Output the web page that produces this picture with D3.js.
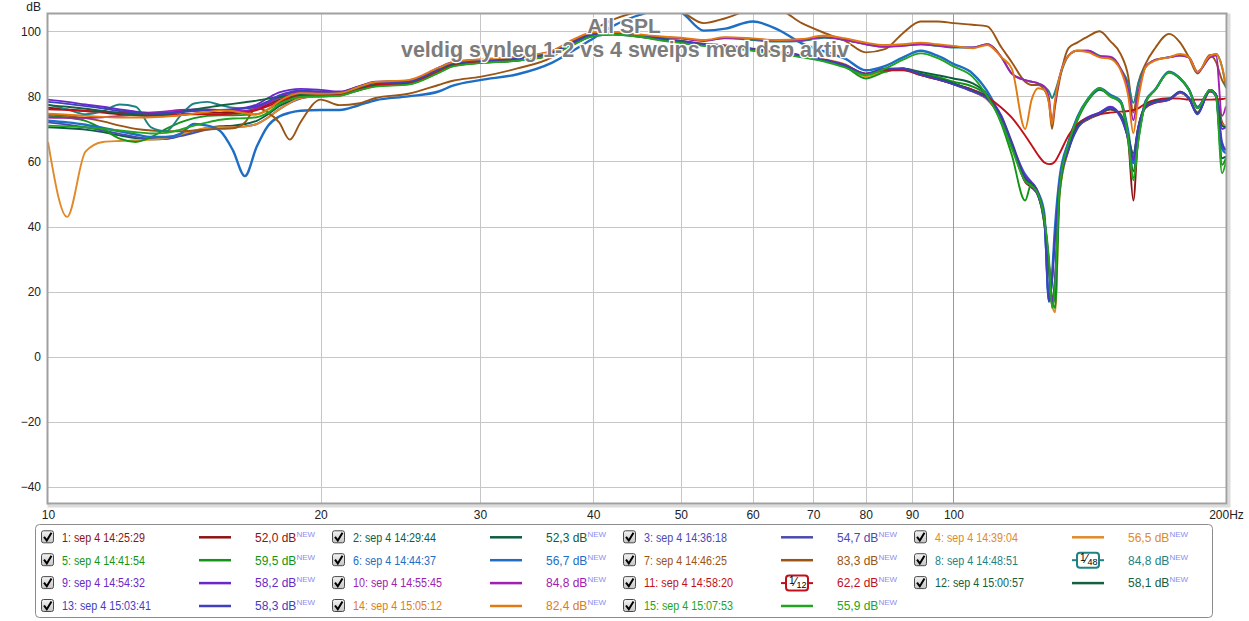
<!DOCTYPE html>
<html>
<head>
<meta charset="utf-8">
<script src="https://cdn.jsdelivr.net/npm/d3@7"></script>
<style>
  html, body { margin: 0; padding: 0; background: #fff; }
  svg { display: block; font-family: "Liberation Sans", Arial, sans-serif; }
</style>
</head>
<body>
<svg id="chart" width="1249" height="621"></svg>
<script>
// frequency points (Hz) shared by every sweep
const freqs = [
  10, 10.5, 11, 11.5, 12, 12.5, 13, 13.5, 14, 14.5, 15, 15.5, 16, 16.5, 17, 17.5, 18, 18.5, 19,
  20, 21, 22, 23, 25, 27, 28, 30, 33, 36, 38, 40, 42, 45, 48, 50,
  53, 56, 60, 64, 68, 72, 76, 80, 84, 88, 92, 96, 100,
  105, 109, 113, 116, 120, 122, 124, 126, 127.5, 128.5, 129.5, 131, 134, 137, 141, 145, 149, 153,
  156, 158, 160, 163, 167, 173, 178, 182, 186, 192, 195, 198, 200,
];

const yTicks = [100, 80, 60, 40, 20, 0, -20, -40];
const xTicks = [10, 20, 30, 40, 50, 60, 70, 80, 90, 100, 200];
const xGrid = [20, 30, 40, 50, 60, 70, 80, 90, 100];

const names = [
  "1: sep 4 14:25:29", "2: sep 4 14:29:44", "3: sep 4 14:36:18", "4: sep 4 14:39:04",
  "5: sep 4 14:41:54", "6: sep 4 14:44:37", "7: sep 4 14:46:25", "8: sep 4 14:48:51",
  "9: sep 4 14:54:32", "10: sep 4 14:55:45", "11: sep 4 14:58:20", "12: sep 4 15:00:57",
  "13: sep 4 15:03:41", "14: sep 4 15:05:12", "15: sep 4 15:07:53",
];
const levels = ["52,0", "52,3", "54,7", "56,5", "59,5", "56,7", "83,3", "84,8",
  "58,2", "84,8", "62,2", "58,1", "58,3", "82,4", "55,9"];
const colors = ["#8e1212", "#0d5e40", "#4a4ab4", "#e08a2a", "#149414", "#1d6ec4", "#9a5414", "#1f8282",
  "#6a28c8", "#a020b0", "#c0101c", "#15603e", "#3f3fc0", "#e27a12", "#22a422"];
const smoothing = { 8: "48", 11: "12" };

// SPL values (dB) per sweep, one per frequency point
const s1 = [
  76.5, 76, 75.5, 75, 74.5, 74.2, 74, 74, 74.3, 74.7, 75, 75, 75.2, 75.5, 76, 77.5, 79, 80, 80.5,
  80.2, 80.5, 82, 83.3, 84, 87.5, 89.5, 90.5, 91.3, 93, 96.3, 98.8, 99.2, 98.5, 97.3, 96.8,
  95.8, 95.3, 94.3, 93.3, 92.3, 91, 89.3, 86.5, 88, 88.3, 86.6, 85.2, 83.8,
  81.5, 79, 73, 65.5, 53.7, 52, 49.5, 41, 28, 18, 22, 51, 63.5, 70.5, 73, 74.5, 76, 74,
  66, 48, 68, 76.5, 78, 78.9, 81, 79.3, 75, 81.5, 80.5, 72, 70.5,
];
const s2 = [
  70.5, 70.2, 69.8, 69, 68, 67.2, 66.8, 67, 68, 69.3, 70.3, 70.8, 71, 71.5, 72.5, 74.5, 77, 78.5, 79.5,
  80, 80.3, 81.8, 83.2, 83.8, 87.3, 89.3, 90.3, 91, 92.8, 96, 98.5, 99, 98.3, 97.2, 96.5,
  95.6, 95.2, 94.2, 93.2, 92.2, 91, 89.2, 86.5, 88, 88.5, 87.5, 86.5, 85.5,
  84, 80.5, 72.5, 64.5, 55, 53, 50.5, 42, 28, 16, 24, 53, 66, 73.5, 79, 82, 80.3, 78.5,
  68, 57, 67, 78.5, 82, 87.5, 85.5, 82.3, 76.8, 81.8, 80.3, 61, 61.5,
];
const s3 = [
  72, 71.3, 70.5, 69.5, 68.5, 67.5, 67, 67, 67.8, 68.8, 69.8, 70.3, 70.5, 70.8, 71.5, 73.5, 76, 78, 79.3,
  80.3, 80.5, 82, 83.5, 84, 87.8, 89.6, 90.6, 91.2, 93, 96.2, 98.8, 99.2, 98.5, 97.4, 96.8,
  95.9, 95.4, 94.4, 93.4, 92.4, 91.1, 89.4, 86.7, 88.2, 88.4, 86.7, 85.4, 83.9,
  81.8, 79.5, 73.5, 65.5, 55, 53, 50, 42, 17.5, 24, 38, 53, 64, 70.5, 73.5, 75, 76.5, 73.5,
  67, 61, 70.5, 76.8, 78.3, 79, 81.3, 79.4, 74.8, 82, 80.5, 66, 63.5,
];
const s4 = [
  66, 43, 63, 66, 66.3, 66.5, 66.7, 67.2, 68.3, 69.5, 70.3, 70.5, 70.5, 70.7, 71.5, 73.5, 76, 78, 79.5,
  80, 80.2, 82.5, 84, 84.5, 88.3, 90, 91, 91.8, 93.6, 97, 99.3, 99.6, 98.8, 97.5, 97,
  96.2, 95.7, 94.7, 93.7, 92.7, 91.4, 89.8, 86.2, 87.8, 88.2, 86.5, 85.3, 84,
  81.5, 79.2, 73, 65, 54, 52.5, 50, 41.5, 28, 16, 13.7, 50, 63.5, 70.5, 73.2, 74.8, 76.2, 74,
  67.5, 62, 70.5, 77, 78.3, 79, 81.2, 79.4, 75, 82, 80.5, 71.5, 70.8,
];
const s5 = [
  74, 73.5, 72.5, 70, 67, 66, 67.5, 70, 72, 73.3, 74, 74.2, 74.2, 74.3, 74.5, 76, 78, 79.5, 80.3,
  80, 80.3, 82, 83.3, 83.8, 87.5, 89.5, 90.3, 91, 92.8, 96, 98.7, 99.2, 98.5, 97.2, 96.6,
  95.7, 95.2, 94.2, 93.2, 92.2, 90.9, 89, 85.5, 87.5, 88.6, 87, 86, 84.5,
  83, 80, 71.5, 62, 48, 53.4, 50, 41, 27, 18, 15, 50, 65, 72.5, 79, 82.3, 80, 78,
  66, 55, 66.5, 78, 82, 87.3, 85.3, 82, 76.5, 81.8, 80, 59, 61,
];
const s6 = [
  72.5, 72, 71.3, 70.3, 69.3, 68.3, 67.5, 67.5, 68.5, 71.5, 71, 69.3, 63.5, 55.5, 64.5, 71, 73.8, 75, 75.6,
  75.8, 75.8, 77.2, 78.8, 80, 81.5, 83.3, 85, 86.8, 90.3, 94, 97.8, 101.5, 105, 106.8, 105.8,
  100.2, 100.8, 103, 100.5, 96.3, 93.8, 91.5, 88, 89.3, 92, 94, 92.5, 90,
  87, 81.5, 73, 65, 56, 53.5, 50.5, 44, 17, 25, 40, 55, 66, 73.5, 79.5, 82.5, 80.5, 78.5,
  69, 59.5, 68, 78.5, 82, 87.6, 85.5, 82, 76.5, 81.8, 80, 64, 62.5,
];
const s7 = [
  74.5, 74, 73.3, 72.3, 71, 70, 69.5, 69.3, 69.3, 69.5, 69.8, 70, 70.2, 72, 76.5, 75, 72, 66.7, 72,
  79, 77.3, 77.8, 79.5, 80.8, 83.5, 84.8, 86, 88.6, 92, 96.5, 100.4, 103.5, 106, 107, 106,
  102.5, 104, 106.5, 106.5, 102.5, 99.5, 97, 93.5, 94.5, 99.5, 103, 103, 102.5,
  102, 101.5, 95, 90.5, 84.5, 83.5, 83.5, 82, 78, 70, 77, 85, 94.8, 96.5, 98.5, 100, 97, 93,
  86, 75, 84, 90, 94.8, 99.2, 96.5, 92, 87, 92.7, 90.5, 85, 83,
];
const s8 = [
  77.5, 76, 74.5, 75.5, 77.5, 76.8, 70.5, 69.3, 74, 77.8, 78.3, 77.3, 76.5, 76.3, 76.8, 78, 79.5, 80.5, 81,
  81, 81.2, 83, 84.3, 84.8, 88.5, 90.3, 91.2, 92, 93.8, 97, 99.3, 99.6, 98.8, 98, 97.8,
  97.2, 97.8, 97.3, 96.8, 97, 98, 97.3, 96, 95.3, 95.6, 96, 95.5, 95,
  95, 96, 92, 87, 85, 84.5, 84, 83, 81.5, 79.5, 81.5, 86, 92.5, 94, 94, 92.5, 92, 88.5,
  84, 78, 84, 89, 91.2, 92, 92.5, 92, 87.5, 92, 93, 89, 82.5,
];
const s9 = [
  79, 78.3, 77.5, 76.8, 76, 75.3, 75, 75, 75.3, 75.6, 75.8, 75.8, 76, 76.5, 77.5, 79.5, 81.2, 82, 82.3,
  82, 81.5, 83, 84.5, 84.7, 88.8, 90.6, 91.2, 91.8, 93.5, 96.8, 99, 99.3, 98.5, 97.5, 97,
  96.1, 95.6, 94.6, 93.6, 92.6, 91.3, 89.6, 87, 88.5, 88.6, 86.8, 85.4, 83.8,
  82, 79.8, 74, 66, 55.5, 53.5, 50.5, 42.5, 29, 17, 24, 53, 64, 71, 73.7, 75, 76.8, 74,
  67, 60.5, 70, 76.8, 78.3, 79, 81.4, 79.4, 74.5, 82, 80.5, 70, 70.6,
];
const s10 = [
  73.5, 73.4, 73.4, 73.6, 74, 74.5, 75, 75.4, 75.8, 76, 76, 75.8, 75.5, 75.5, 76.5, 78, 79.8, 81, 81.5,
  81.3, 81.2, 82.8, 84.3, 84.8, 88.6, 90.3, 91.2, 92, 93.8, 97.2, 99.5, 99.6, 98.8, 98.2, 97.8,
  97, 98, 97.6, 97.2, 97.3, 98.2, 97.3, 96, 95.2, 95.5, 96, 95.6, 95.2,
  95, 96, 92, 87, 85, 84.5, 84, 83, 79.5, 72, 78, 86, 92.5, 94, 94, 92.3, 92.2, 88.5,
  82, 72.7, 81, 89, 91.2, 92, 92.5, 92, 87.5, 92, 92.5, 74, 77,
];
const s11 = [
  76, 75.8, 75.5, 75.3, 75, 74.8, 74.6, 74.5, 74.5, 74.5, 74.5, 74.5, 74.7, 75, 75.8, 77, 78.5, 79.5, 80.2,
  80.5, 80.6, 82.2, 83.5, 84, 87.6, 89.6, 90.5, 91.3, 93, 96.3, 98.8, 99.2, 98.4, 97.3, 96.8,
  96, 95.5, 94.5, 93.5, 92.5, 91.2, 89.5, 87, 88, 88, 86.5, 85.2, 83.8,
  82, 79.8, 76.5, 73.5, 68, 65, 62, 59.7, 59.2, 59.3, 60, 62.5, 68, 71.5, 73.5, 74.5, 75, 75.3,
  75.5, 75.8, 76.3, 77.8, 78.9, 79.4, 79.3, 79, 79, 79, 79.1, 79.2, 79.4,
];
const s12 = [
  77.3, 76.8, 76.2, 75.5, 74.8, 74.3, 74.2, 74.5, 75.2, 76, 76.6, 77.2, 77.7, 78.2, 78.7, 79.3, 79.8, 80.2, 80.5,
  80.8, 81, 82.6, 84, 84.5, 88.3, 90, 91, 91.7, 93.5, 96.6, 99, 99.4, 98.6, 97.5, 97,
  95.9, 95.4, 94.4, 93.4, 92.4, 91.1, 89.4, 86.8, 88.3, 88.5, 86.8, 85.5, 84,
  81.7, 79.5, 73.5, 65.5, 54.5, 53, 50, 42, 28, 15.5, 20, 52, 64, 70.5, 73.3, 74.8, 76, 74.5,
  67.5, 62.5, 70.5, 77, 78.5, 79.2, 81.4, 79.5, 75, 82, 80.5, 71, 70.5,
];
const s13 = [
  78.3, 77.7, 77, 76.3, 75.5, 75, 74.7, 74.8, 75.2, 75.5, 75.7, 75.8, 76, 76.3, 77, 78.5, 80.3, 81.3, 81.8,
  81.5, 81.2, 82.8, 84.2, 84.5, 88.4, 90.2, 91, 91.6, 93.3, 96.5, 98.9, 99.3, 98.5, 97.4, 96.9,
  96, 95.5, 94.5, 93.5, 92.5, 91.2, 89.5, 86.9, 88.4, 88.5, 86.7, 85.3, 83.7,
  81.5, 79.3, 73.3, 65, 54, 52.5, 49.5, 41.5, 17, 23, 37, 52.5, 63.5, 70, 73.4, 74.8, 76.5, 73.8,
  67, 61.5, 70.3, 76.8, 78.2, 79, 81.3, 79.4, 74.5, 82, 80.5, 65, 63.5,
];
const s14 = [
  74.7, 74.4, 74, 73.7, 73.5, 73.5, 73.6, 73.8, 74.2, 74.7, 75.2, 75.7, 75.5, 74.8, 74.5, 76, 78.5, 80.2, 81,
  80.8, 81, 82.8, 84.4, 85, 88.8, 90.5, 91.4, 92.2, 94, 97.4, 99.7, 99.8, 99, 98.3, 98,
  97.3, 98.2, 97.8, 97.3, 97.6, 98.7, 97.8, 96.5, 95.8, 96, 96.5, 96, 95.5,
  94.8, 95.8, 92, 88.5, 70, 79, 82.5, 82, 78, 71.5, 79, 86, 92.5, 94, 93.5, 92, 91.5, 88,
  80, 68.7, 79, 89, 91, 92, 93, 92, 87.5, 92.5, 93, 89, 83.5,
];
const s15 = [
  71, 70.8, 70.5, 70, 69.5, 69, 68.6, 68.8, 69.8, 71, 72, 72.8, 73.2, 73.3, 73.6, 75, 77.5, 79, 79.8,
  80, 80.2, 81.8, 83, 83.6, 87.2, 89.2, 90.2, 91, 92.7, 95.8, 98.5, 99, 98.3, 97, 96.4,
  95.5, 95, 94, 93, 92, 90.7, 88.8, 86.6, 88.5, 91.3, 93.2, 91.8, 89.2,
  86, 80, 72, 64, 54, 52.5, 50, 42.5, 30, 15, 22, 52, 65.5, 73, 79.5, 82.5, 80, 78.3,
  67, 54.2, 66, 78, 82, 87.3, 85.5, 82, 76.3, 82, 80, 56.4, 60,
];

const sweeps = [s1, s2, s3, s4, s5, s6, s7, s8, s9, s10, s11, s12, s13, s14, s15];

const svg = d3.select("#chart");
const plot = { left: 48, top: 14, right: 1226, bottom: 503 };

const x = d3.scaleLog().domain([10, 200]).range([plot.left, plot.right]);
const y = d3.scaleLinear().domain([-44.9, 105.3]).range([plot.bottom, plot.top]);

// frame with a light shadow
svg.append("rect")
  .attr("x", plot.left + 1).attr("y", plot.top + 1)
  .attr("width", plot.right - plot.left + 2).attr("height", plot.bottom - plot.top + 2)
  .attr("fill", "none").attr("stroke", "#dcdcdc").attr("stroke-width", 3);
svg.append("rect")
  .attr("x", plot.left).attr("y", plot.top)
  .attr("width", plot.right - plot.left).attr("height", plot.bottom - plot.top)
  .attr("fill", "#fff");

// grid
const grid = svg.append("g");
grid.selectAll("line.h").data(yTicks).join("line")
  .attr("x1", plot.left).attr("x2", plot.right)
  .attr("y1", (d) => Math.round(y(d)) + 0.5).attr("y2", (d) => Math.round(y(d)) + 0.5)
  .attr("stroke", "#c6c6c6");
grid.selectAll("line.v").data(xGrid).join("line")
  .attr("y1", plot.top).attr("y2", plot.bottom)
  .attr("x1", (d) => Math.round(x(d)) + 0.5).attr("x2", (d) => Math.round(x(d)) + 0.5)
  .attr("stroke", (d) => (d === 100 ? "#9a9a9a" : "#c6c6c6"));

// curves
svg.append("clipPath").attr("id", "clip").append("rect")
  .attr("x", plot.left).attr("y", plot.top)
  .attr("width", plot.right - plot.left).attr("height", plot.bottom - plot.top);

const line = d3.line()
  .x((d, i) => x(freqs[i]))
  .y((d) => y(d))
  .curve(d3.curveMonotoneX);

svg.append("g").attr("clip-path", "url(#clip)")
  .selectAll("path").data(sweeps).join("path")
  .attr("d", line)
  .attr("fill", "none")
  .attr("stroke", (d, i) => colors[i])
  .attr("stroke-width", (d, i) => (i === 5 ? 2.4 : 1.9))
  .attr("stroke-linejoin", "round");

// frame border on top
svg.append("rect")
  .attr("x", plot.left - 0.5).attr("y", plot.top - 0.5)
  .attr("width", plot.right - plot.left + 1).attr("height", plot.bottom - plot.top + 1)
  .attr("fill", "none").attr("stroke", "#a0a0a0").attr("stroke-width", 2);

// axes
const yAxis = svg.append("g")
  .attr("transform", `translate(${plot.left},0)`)
  .call(d3.axisLeft(y).tickValues(yTicks).tickSize(0).tickPadding(7));
const xAxis = svg.append("g")
  .attr("transform", `translate(0,${plot.bottom})`)
  .call(d3.axisBottom(x).tickValues(xTicks).tickSize(0).tickPadding(7)
    .tickFormat((d) => (d === 200 ? "200Hz" : d)));
[yAxis, xAxis].forEach((g) => {
  g.select(".domain").remove();
  g.selectAll("text").attr("font-size", 12).attr("fill", "#222")
    .attr("font-family", '"Liberation Sans", Arial, sans-serif');
});
svg.append("text").attr("x", 41).attr("y", 11).attr("text-anchor", "end")
  .attr("font-size", 12).attr("fill", "#222").text("dB");

// titles
const title = svg.append("g").attr("text-anchor", "middle")
  .attr("font-weight", "bold").attr("fill", "#7c7c7c")
  .attr("stroke", "#fff").attr("stroke-width", 2.5).attr("paint-order", "stroke");
title.append("text").attr("x", 624).attr("y", 33).attr("font-size", 21).text("All SPL");
title.append("text").attr("x", 625).attr("y", 57).attr("font-size", 21.5)
  .text("veldig synleg 1-2 vs 4 sweips med dsp aktiv");

// legend
const defs = svg.append("defs");
const grad = defs.append("linearGradient").attr("id", "cb").attr("x1", 0).attr("y1", 0).attr("x2", 0).attr("y2", 1);
grad.append("stop").attr("offset", "0%").attr("stop-color", "#f4f4f4");
grad.append("stop").attr("offset", "100%").attr("stop-color", "#c4c4c4");

svg.append("rect")
  .attr("x", 35.5).attr("y", 524.5).attr("width", 1177).attr("height", 93).attr("rx", 4)
  .attr("fill", "#fff").attr("stroke", "#8c8c8c");

const items = svg.append("g").selectAll("g").data(names).join("g")
  .attr("transform", (d, i) => `translate(${41 + (i % 4) * 291},${537.3 + Math.floor(i / 4) * 22.9})`);

items.append("rect")
  .attr("x", 0.5).attr("y", -6.5).attr("width", 12).attr("height", 12).attr("rx", 2)
  .attr("fill", "url(#cb)").attr("stroke", "#4a4a4a");
items.append("path")
  .attr("d", "M3,-0.5 L5.8,3.2 L10.5,-4.5")
  .attr("fill", "none").attr("stroke", "#000").attr("stroke-width", 2);

items.append("text")
  .attr("x", 21).attr("y", 4.3)
  .attr("font-size", 12)
  .attr("fill", (d, i) => colors[i])
  .attr("textLength", (d, i) => (i >= 9 ? 89 : 83))
  .attr("lengthAdjust", "spacingAndGlyphs")
  .text((d) => d);

items.each(function (d, i) {
  const g = d3.select(this);
  const c = colors[i];
  const s = smoothing[i + 1];
  if (s) {
    g.append("line").attr("x1", 158).attr("x2", 190).attr("y1", 0).attr("y2", 0)
      .attr("stroke", c).attr("stroke-width", 2);
    g.append("rect").attr("x", 163).attr("y", -7.5).attr("width", 22).attr("height", 15).attr("rx", 3)
      .attr("fill", "#fff").attr("stroke", c).attr("stroke-width", 2);
    const t = g.append("text").attr("x", 166).attr("y", 2).attr("font-size", 10).attr("fill", "#000");
    t.append("tspan").attr("dy", -1).text("1");
    t.append("tspan").attr("font-size", 12).attr("dy", 2).text("⁄");
    t.append("tspan").attr("font-size", 9).attr("dy", 2).text(s);
  } else {
    g.append("line").attr("x1", 158).attr("x2", 190).attr("y1", 0).attr("y2", 0)
      .attr("stroke", c).attr("stroke-width", 2.5);
  }
  const v = g.append("text").attr("x", 214).attr("y", 4.3).attr("font-size", 12).attr("fill", c);
  v.append("tspan").text(`${levels[i]} dB`);
  v.append("tspan").attr("font-size", 8).attr("dy", -5).attr("fill", "#8c8cee").text("NEW");
});
</script>
</body>
</html>
